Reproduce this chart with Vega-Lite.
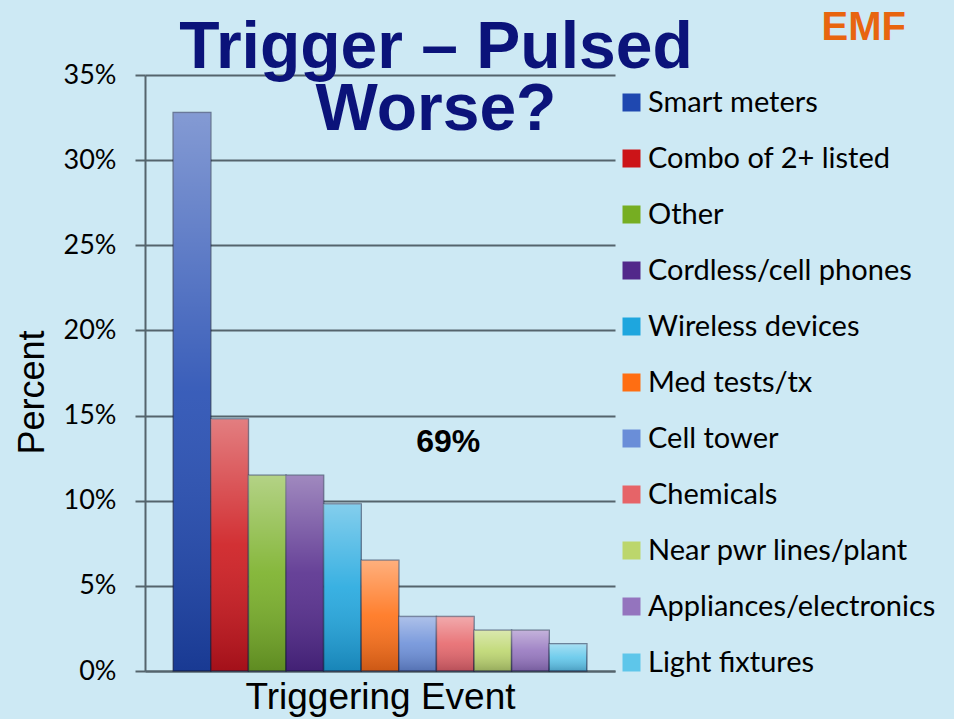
{
  "$schema": "https://vega.github.io/schema/vega-lite/v6.json",
  "autosize": "none",
  "width": 470,
  "height": 596,
  "padding": {"left": 145, "top": 75, "right": 339, "bottom": 48},
  "background": "#cde9f4",
  "title": {
    "text": ["Trigger – Pulsed", "Worse?"],
    "font": "Liberation Sans",
    "fontSize": 66,
    "fontWeight": "bold",
    "color": "#0b137a",
    "anchor": "middle",
    "frame": "group",
    "lineHeight": 62,
    "dx": 56,
    "offset": -136
  },
  "config": {
    "view": {"stroke": null},
    "font": "Lato"
  },
  "datasets": {
    "bars": [
      {"event": "Smart meters", "percent": 32.8},
      {"event": "Combo of 2+ listed", "percent": 14.8},
      {"event": "Other", "percent": 11.5},
      {"event": "Cordless/cell phones", "percent": 11.5},
      {"event": "Wireless devices", "percent": 9.8},
      {"event": "Med tests/tx", "percent": 6.5},
      {"event": "Cell tower", "percent": 3.2},
      {"event": "Chemicals", "percent": 3.2},
      {"event": "Near pwr lines/plant", "percent": 2.4},
      {"event": "Appliances/electronics", "percent": 2.4},
      {"event": "Light fixtures", "percent": 1.6}
    ],
    "notes": [
      {"event": "Chemicals", "percent": 13.45, "label": "69%"}
    ]
  },
  "layer": [
    {
      "data": {"name": "bars"},
      "mark": {"type": "bar", "stroke": "#101838", "strokeOpacity": 0.55, "strokeWidth": 1.5},
      "encoding": {
        "x": {
          "field": "event", "type": "nominal", "sort": null,
          "scale": {
            "domain": ["Smart meters", "Combo of 2+ listed", "Other", "Cordless/cell phones", "Wireless devices", "Med tests/tx", "Cell tower", "Chemicals", "Near pwr lines/plant", "Appliances/electronics", "Light fixtures"],
            "paddingInner": 0, "paddingOuter": 0.75
          },
          "axis": {
            "labels": false, "ticks": false,
            "domain": true, "domainColor": "#55646c", "domainWidth": 2,
            "title": "Triggering Event",
            "titleFont": "Liberation Sans", "titleFontSize": 37, "titleFontWeight": "normal", "titleColor": "#000000",
            "titleBaseline": "alphabetic", "titleY": 37
          }
        },
        "y": {
          "field": "percent", "type": "quantitative",
          "scale": {"domain": [0, 35], "nice": false},
          "axis": {
            "values": [0, 5, 10, 15, 20, 25, 30, 35],
            "labelExpr": "datum.value + '%'",
            "labelFont": "Lato", "labelFontSize": 27, "labelColor": "#000000", "labelPadding": 19,
            "tickSize": 10, "tickColor": "#55646c", "tickWidth": 2,
            "domainColor": "#55646c", "domainWidth": 2,
            "grid": true, "gridColor": "#55646c", "gridWidth": 2,
            "title": "Percent",
            "titleFont": "Liberation Sans", "titleFontSize": 36, "titleFontWeight": "normal", "titleColor": "#000000",
            "titleAngle": -90, "titleBaseline": "alphabetic", "titleAlign": "center",
            "titleX": -102, "titleY": 317
          }
        },
        "color": {
          "field": "event", "type": "nominal", "sort": null,
          "scale": {
            "domain": ["Smart meters", "Combo of 2+ listed", "Other", "Cordless/cell phones", "Wireless devices", "Med tests/tx", "Cell tower", "Chemicals", "Near pwr lines/plant", "Appliances/electronics", "Light fixtures"],
            "range": ["#1f48b0", "#cc1418", "#76ae22", "#52288a", "#1ea6de", "#ff6e12", "#6a8ed8", "#e66468", "#bcd66c", "#9474be", "#5ec6ea"]
          },
          "legend": {
            "orient": "none",
            "legendX": 472,
            "legendY": -67,
            "title": "EMF\u2800",
            "titleFont": "Liberation Sans", "titleFontSize": 40, "titleFontWeight": "bold", "titleColor": "#e8650f",
            "titleAnchor": "end", "titlePadding": 40,
            "symbolType": "square", "symbolSize": 324, "symbolStrokeWidth": 0,
            "labelFont": "Lato", "labelFontSize": 29, "labelColor": "#000000", "labelOffset": 2, "labelLimit": 400,
            "rowPadding": 26, "padding": 0
          }
        }
      }
    },
    {
      "data": {"name": "bars"},
      "mark": {
        "type": "bar",
        "color": {
          "gradient": "linear", "x1": 0, "y1": 0, "x2": 0, "y2": 1,
          "stops": [
            {"offset": 0, "color": "rgba(255,255,255,0.45)"},
            {"offset": 0.5, "color": "rgba(255,255,255,0.12)"},
            {"offset": 1, "color": "rgba(0,0,30,0.2)"}
          ]
        }
      },
      "encoding": {
        "x": {"field": "event", "type": "nominal", "sort": null},
        "y": {"field": "percent", "type": "quantitative"}
      }
    },
    {
      "data": {"name": "notes"},
      "mark": {"type": "text", "font": "Liberation Sans", "fontSize": 32, "fontWeight": "bold", "color": "#000000", "dx": -7, "baseline": "middle"},
      "encoding": {
        "x": {"field": "event", "type": "nominal", "sort": null},
        "y": {"field": "percent", "type": "quantitative"},
        "text": {"field": "label"}
      }
    }
  ]
}
